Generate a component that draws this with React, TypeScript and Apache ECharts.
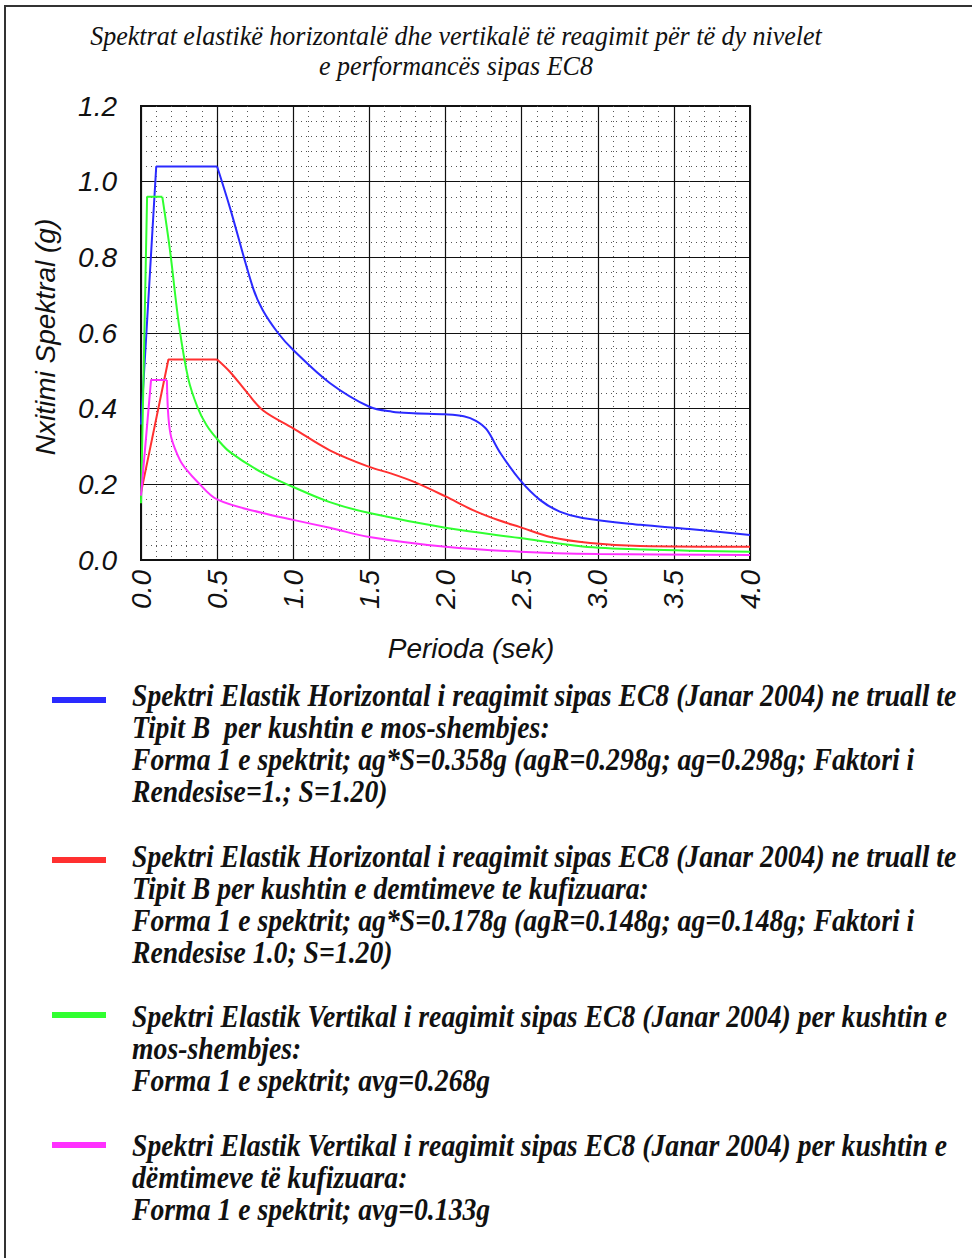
import React, { useEffect, useRef } from "react";
import * as echarts from "echarts";

// ---- Data ----
const X_TICKS = [0, 0.5, 1.0, 1.5, 2.0, 2.5, 3.0, 3.5, 4.0];
const Y_TICKS = [0, 0.2, 0.4, 0.6, 0.8, 1.0, 1.2];

// Each curve: straight ramp + plateau, then a smooth descending branch
const T_BLUE_RAMP = [0, 0.1, 0.5];
const V_BLUE_RAMP = [0.358, 1.04, 1.04];
const T_BLUE_DESC = [0.5, 0.585, 0.735, 0.8, 0.9, 1.0, 1.24, 1.5, 1.65, 1.79, 2.0, 2.12, 2.2, 2.27, 2.36, 2.49, 2.62, 2.75, 2.9, 3.28, 3.6, 4.0];
const V_BLUE_DESC = [1.04, 0.93, 0.72, 0.66, 0.6, 0.555, 0.468, 0.405, 0.392, 0.388, 0.385, 0.38, 0.368, 0.345, 0.283, 0.211, 0.159, 0.128, 0.111, 0.093, 0.082, 0.066];

const T_RED_RAMP = [0, 0.18, 0.5];
const V_RED_RAMP = [0.178, 0.53, 0.53];
const T_RED_DESC = [0.5, 0.585, 0.7, 0.8, 1.0, 1.24, 1.5, 1.64, 1.79, 2.0, 2.18, 2.35, 2.49, 2.69, 2.95, 3.28, 4.0];
const V_RED_DESC = [0.53, 0.497, 0.441, 0.396, 0.348, 0.29, 0.246, 0.229, 0.207, 0.168, 0.132, 0.105, 0.087, 0.061, 0.045, 0.037, 0.035];

const T_GREEN_RAMP = [0, 0.04, 0.14];
const V_GREEN_RAMP = [0.15, 0.96, 0.96];
const T_GREEN_DESC = [0.14, 0.19, 0.25, 0.31, 0.37, 0.43, 0.5, 0.585, 0.8, 1.0, 1.24, 1.5, 2.0, 2.49, 2.9, 3.3, 4.0];
const V_GREEN_DESC = [0.96, 0.82, 0.62, 0.48, 0.405, 0.357, 0.32, 0.285, 0.23, 0.193, 0.153, 0.124, 0.085, 0.058, 0.036, 0.028, 0.022];

const T_MAGENTA_RAMP = [0, 0.066, 0.17];
const V_MAGENTA_RAMP = [0.17, 0.476, 0.476];
const T_MAGENTA_DESC = [0.17, 0.18, 0.2, 0.256, 0.3, 0.37, 0.5, 0.8, 1.0, 1.24, 1.5, 2.0, 2.49, 3.0, 4.0];
const V_MAGENTA_DESC = [0.476, 0.378, 0.322, 0.264, 0.238, 0.207, 0.16, 0.124, 0.106, 0.085, 0.061, 0.035, 0.022, 0.016, 0.013];

const TITLE_LINES = [
  "Spektrat elastikë horizontalë dhe vertikalë të reagimit për të dy nivelet",
  "e performancës sipas EC8",
];
const X_NAME = "Perioda (sek)";
const Y_NAME = "Nxitimi Spektral (g)";

const LEGEND_1 = [
  "Spektri Elastik Horizontal i reagimit sipas EC8 (Janar 2004) ne truall te",
  "Tipit B  per kushtin e mos-shembjes:",
  "Forma 1 e spektrit; ag*S=0.358g (agR=0.298g; ag=0.298g; Faktori i",
  "Rendesise=1.; S=1.20)",
];
const LEGEND_2 = [
  "Spektri Elastik Horizontal i reagimit sipas EC8 (Janar 2004) ne truall te",
  "Tipit B per kushtin e demtimeve te kufizuara:",
  "Forma 1 e spektrit; ag*S=0.178g (agR=0.148g; ag=0.148g; Faktori i",
  "Rendesise 1.0; S=1.20)",
];
const LEGEND_3 = [
  "Spektri Elastik Vertikal i reagimit sipas EC8 (Janar 2004) per kushtin e",
  "mos-shembjes:",
  "Forma 1 e spektrit; avg=0.268g",
];
const LEGEND_4 = [
  "Spektri Elastik Vertikal i reagimit sipas EC8 (Janar 2004) per kushtin e",
  "dëmtimeve të kufizuara:",
  "Forma 1 e spektrit; avg=0.133g",
];

const COLORS = ["#2a2aff", "#ff3030", "#30ff30", "#ff30ff"];

function measure(text: string, font: string): number {
  const c = document.createElement("canvas").getContext("2d");
  if (!c) return 0;
  c.font = font;
  return c.measureText(text).width;
}

function zip(t: number[], v: number[]) {
  return t.map((x, i) => [x, v[i]]);
}

export default function App() {
  const ref = useRef<HTMLDivElement>(null);
  useEffect(() => {
    if (!ref.current) return;
    const chart = echarts.init(ref.current, undefined, { renderer: "svg" });

    const serif = '"Liberation Serif", "Times New Roman", serif';
    const sans = '"Liberation Sans", Arial, sans-serif';

    const titleSize = 28;
    const titleFont = `italic ${titleSize}px ${serif}`;
    const tw = measure(TITLE_LINES[0], titleFont) || 732;
    const titleScale = 732 / tw;

    const legSize = 31;
    const legFont = `italic bold ${legSize}px ${serif}`;
    const lw = measure(LEGEND_1[0], legFont) || 825;
    const legScale = 825 / lw;

    const graphics: any[] = [];
    graphics.push({
      type: "rect",
      shape: { x: 5, y: 6, width: 1000, height: 1300 },
      style: { fill: "none", stroke: "#333", lineWidth: 2 },
      z: 0,
    });
    TITLE_LINES.forEach((t, i) => {
      graphics.push({
        type: "text",
        x: 456,
        y: 36 + i * 30,
        scaleX: titleScale,
        style: {
          text: t,
          fontFamily: serif,
          fontStyle: "italic",
          fontSize: titleSize,
          fill: "#111",
          textAlign: "center",
          textVerticalAlign: "middle",
        },
      });
    });
    graphics.push({
      type: "text",
      x: 471,
      y: 648,
      style: {
        text: X_NAME,
        fontFamily: sans,
        fontStyle: "italic",
        fontSize: 28,
        fill: "#111",
        textAlign: "center",
        textVerticalAlign: "middle",
      },
    });
    graphics.push({
      type: "text",
      x: 45,
      y: 337,
      rotation: Math.PI / 2,
      style: {
        text: Y_NAME,
        fontFamily: sans,
        fontStyle: "italic",
        fontSize: 28,
        fill: "#111",
        textAlign: "center",
        textVerticalAlign: "middle",
      },
    });

    const blocks = [
      { lines: LEGEND_1, y0: 695, sw: 700 },
      { lines: LEGEND_2, y0: 856, sw: 860 },
      { lines: LEGEND_3, y0: 1016, sw: 1015 },
      { lines: LEGEND_4, y0: 1145, sw: 1145 },
    ];
    blocks.forEach((b, bi) => {
      graphics.push({
        type: "rect",
        shape: { x: 52, y: b.sw - 3, width: 54, height: 6 },
        style: { fill: COLORS[bi] },
      });
      b.lines.forEach((t, i) => {
        graphics.push({
          type: "text",
          x: 132,
          y: b.y0 + i * 32,
          scaleX: legScale,
          style: {
            text: t,
            fontFamily: serif,
            fontStyle: "italic",
            fontWeight: "bold",
            fontSize: legSize,
            fill: "#111",
            textAlign: "left",
            textVerticalAlign: "middle",
          },
        });
      });
    });

    const curves = [
      { name: "Horizontal mos-shembje", ramp: zip(T_BLUE_RAMP, V_BLUE_RAMP), desc: zip(T_BLUE_DESC, V_BLUE_DESC) },
      { name: "Horizontal demtime te kufizuara", ramp: zip(T_RED_RAMP, V_RED_RAMP), desc: zip(T_RED_DESC, V_RED_DESC) },
      { name: "Vertikal mos-shembje", ramp: zip(T_GREEN_RAMP, V_GREEN_RAMP), desc: zip(T_GREEN_DESC, V_GREEN_DESC) },
      { name: "Vertikal demtime te kufizuara", ramp: zip(T_MAGENTA_RAMP, V_MAGENTA_RAMP), desc: zip(T_MAGENTA_DESC, V_MAGENTA_DESC) },
    ];
    const series: any[] = [];
    curves.forEach((c, i) => {
      series.push({
        type: "line",
        name: c.name,
        data: c.ramp,
        showSymbol: false,
        symbol: "none",
        lineStyle: { color: COLORS[i], width: 2 },
        itemStyle: { color: COLORS[i] },
        z: 5,
      });
      series.push({
        type: "line",
        name: c.name,
        data: c.desc,
        smooth: 0.35,
        showSymbol: false,
        symbol: "none",
        lineStyle: { color: COLORS[i], width: 2 },
        itemStyle: { color: COLORS[i] },
        z: 5,
      });
    });

    const minorLine = { show: true, lineStyle: { color: "#555", width: 1, type: [1, 4] } };

    chart.setOption({
      animation: false,
      backgroundColor: "#fff",
      grid: {
        left: 141,
        right: 222,
        top: 106,
        bottom: 698,
        show: true,
        borderColor: "#111",
        borderWidth: 2,
        backgroundColor: "transparent",
      },
      xAxis: {
        type: "value",
        min: X_TICKS[0],
        max: X_TICKS[X_TICKS.length - 1],
        interval: 0.5,
        axisLine: { show: true, lineStyle: { color: "#111", width: 2 } },
        axisTick: { show: false },
        axisLabel: {
          rotate: 90,
          margin: 10,
          fontFamily: sans,
          fontStyle: "italic",
          fontSize: 28,
          color: "#111",
          formatter: (v: number) => v.toFixed(1),
        },
        splitLine: { show: true, lineStyle: { color: "#111", width: 1.2 } },
        minorTick: { show: false, splitNumber: 5 },
        minorSplitLine: minorLine,
      },
      yAxis: {
        type: "value",
        min: Y_TICKS[0],
        max: Y_TICKS[Y_TICKS.length - 1],
        interval: 0.2,
        axisLine: { show: true, lineStyle: { color: "#111", width: 2 } },
        axisTick: { show: false },
        axisLabel: {
          margin: 24,
          padding: [0, 0, 8, 0],
          fontFamily: sans,
          fontStyle: "italic",
          fontSize: 28,
          color: "#111",
          formatter: (v: number) => v.toFixed(1),
        },
        splitLine: { show: true, lineStyle: { color: "#111", width: 1.2 } },
        minorTick: { show: false, splitNumber: 5 },
        minorSplitLine: minorLine,
      },
      series,
      graphic: graphics,
    });

    return () => chart.dispose();
  }, []);

  return (
    <div
      ref={ref}
      style={{ position: "absolute", left: 0, top: 0, width: 972, height: 1258 }}
    />
  );
}
